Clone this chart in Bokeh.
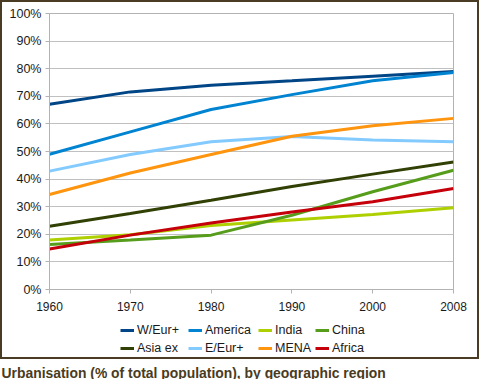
from bokeh.plotting import figure
from bokeh.layouts import column
from bokeh.models import (FixedTicker, PrintfTickFormatter, Legend, LegendItem,
                          Label, Range1d)
from bokeh.embed import file_html
from bokeh.resources import INLINE

years = ["1960", "1970", "1980", "1990", "2000", "2008"]
w_eur = [67.1, 71.6, 74.0, 75.6, 77.3, 79.0]
america = [49.0, 57.1, 65.2, 70.6, 75.6, 78.6]
india = [17.9, 19.8, 23.2, 25.2, 27.2, 29.6]
china = [16.3, 17.9, 19.7, 26.9, 35.4, 43.2]
asia_ex = [22.9, 27.5, 32.3, 37.3, 41.8, 46.2]
e_eur = [42.9, 48.9, 53.5, 55.4, 54.2, 53.5]
mena = [34.4, 42.2, 48.9, 55.5, 59.3, 62.0]
africa = [14.7, 19.7, 24.1, 28.1, 31.8, 36.6]
y_ticks = [0, 10, 20, 30, 40, 50, 60, 70, 80, 90, 100]
title_text = "Urbanisation (% of total population), by geographic region"

series = [
    ("W/Eur+", w_eur, "#004586"),
    ("America", america, "#0084d1"),
    ("India", india, "#aecf00"),
    ("China", china, "#579d1c"),
    ("Asia ex", asia_ex, "#314004"),
    ("E/Eur+", e_eur, "#83caff"),
    ("MENA", mena, "#ff950e"),
    ("Africa", africa, "#c5000b"),
]
# legend columns (top item, bottom item)
legend_columns = [("W/Eur+", "Asia ex"), ("America", "E/Eur+"),
                  ("India", "MENA"), ("China", "Africa")]
legend_col_x = [71, 139, 209, 266]

FONT = "Liberation Sans"
BROWN = "#4a3b24"
x_idx = list(range(len(years)))

# --- chart ---
p = figure(width=475, height=314, output_backend="svg", toolbar_location=None,
           x_range=Range1d(0, len(years) - 1), y_range=Range1d(0, 100),
           min_border_left=47, min_border_right=24, min_border_top=11,
           min_border_bottom=27)
p.background_fill_color = "white"
p.border_fill_color = "white"
p.outline_line_color = "#b3b3b3"

for name, vals, col in series:
    p.line(x_idx, vals, line_color=col, line_width=3)

p.xaxis.ticker = FixedTicker(ticks=x_idx)
p.xaxis.major_label_overrides = {i: y for i, y in enumerate(years)}
p.yaxis.ticker = FixedTicker(ticks=y_ticks)
p.yaxis.formatter = PrintfTickFormatter(format="%d%%")
for ax in (p.xaxis, p.yaxis):
    ax.axis_line_color = "#b3b3b3"
    ax.major_tick_line_color = "#b3b3b3"
    ax.major_tick_in = 0
    ax.major_tick_out = 4
    ax.minor_tick_line_color = None
    ax.major_label_text_font = FONT
    ax.major_label_text_font_size = "12.5px"
    ax.major_label_text_color = "#1a1a1a"
p.xaxis.major_label_text_font_size = "12px"
p.yaxis.major_label_standoff = 4
p.xaxis.major_label_standoff = 8
p.xgrid.grid_line_color = None
p.ygrid.grid_line_color = "#c0c0c0"
p.ygrid.ticker = FixedTicker(ticks=y_ticks)

# --- legend strip (legend entries need renderers in the same plot) ---
lf = figure(width=475, height=41, output_backend="svg", toolbar_location=None,
            x_range=Range1d(0, len(years) - 1), y_range=Range1d(1000, 1001),
            x_axis_location=None, y_axis_location=None,
            min_border=0, min_border_left=0, min_border_right=0,
            min_border_top=0, min_border_bottom=0)
lf.grid.visible = False
lf.outline_line_color = None
lf.background_fill_color = "white"
lf.border_fill_color = "white"
proxy = {}
for name, vals, col in series:
    proxy[name] = lf.line(x_idx, vals, line_color=col, line_width=3)

for (top_name, bottom_name), lx in zip(legend_columns, legend_col_x):
    leg = Legend(items=[LegendItem(label=top_name, renderers=[proxy[top_name]]),
                        LegendItem(label=bottom_name, renderers=[proxy[bottom_name]])],
                 location=(lx, 0), orientation="vertical",
                 glyph_width=14, glyph_height=18, label_height=18,
                 label_standoff=3, spacing=0, padding=0, margin=0,
                 label_text_font=FONT, label_text_font_size="12.5px",
                 label_text_color="#1a1a1a", border_line_color=None,
                 background_fill_alpha=0)
    lf.add_layout(leg, "center")

boxed = column(p, lf, spacing=0, styles={"border": "2px solid " + BROWN})

# --- caption ---
t = figure(width=479, height=20, output_backend="svg", toolbar_location=None,
           x_range=Range1d(0, 1), y_range=Range1d(0, 1),
           x_axis_location=None, y_axis_location=None,
           min_border=0, min_border_left=0, min_border_right=0,
           min_border_top=0, min_border_bottom=0)
t.grid.visible = False
t.outline_line_color = None
t.add_layout(Label(x=1, y=7, x_units="screen", y_units="screen", text=title_text,
                   text_font=FONT, text_font_size="13.9px", text_font_style="bold",
                   text_color="#4a3b22", text_baseline="alphabetic"))

layout = column(boxed, t, spacing=0)
open("out.html", "w").write(file_html(layout, INLINE))
